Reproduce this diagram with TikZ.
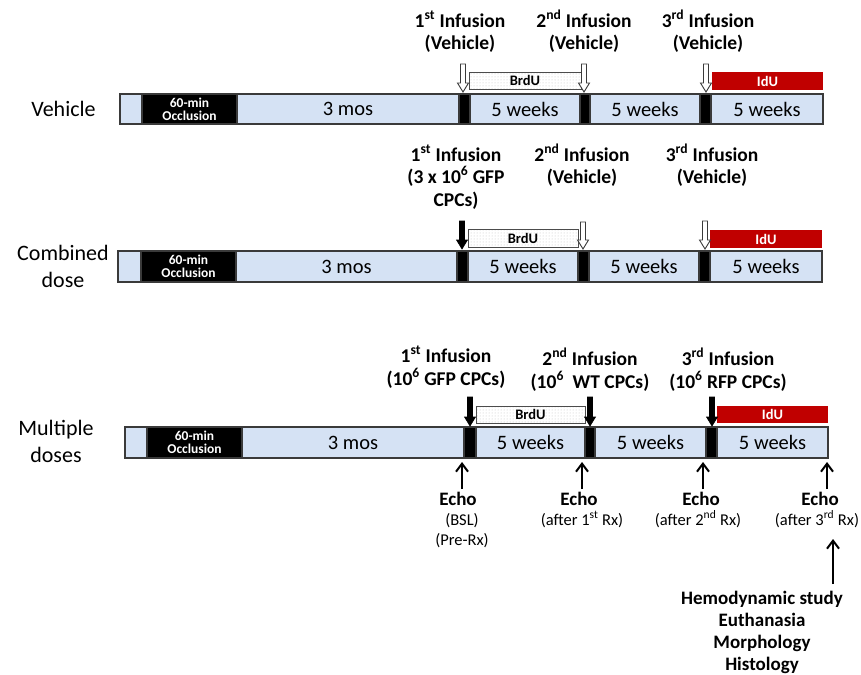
\documentclass[tikz,border=0pt]{standalone}
\usepackage{fontspec}
\setmainfont{Carlito}
\usetikzlibrary{patterns,arrows.meta}
\definecolor{barblue}{HTML}{D5E2F4}
\definecolor{baredge}{HTML}{3A3A3A}
\definecolor{idured}{HTML}{C00000}
\tikzset{
  seglight/.style={draw=baredge, line width=1.3pt, fill=barblue, inner sep=0pt, outer sep=0pt,
    font=\fontsize{20.5}{24}\selectfont},
  segdark/.style={draw=baredge, line width=1.3pt, fill=black, inner sep=0pt, outer sep=0pt,
    text=white, align=center, font=\bfseries\fontsize{13.5}{13}\selectfont},
  brdubox/.style={draw=gray!60!black, line width=0.8pt, pattern=dots, pattern color=gray!50,
    inner sep=0pt, font=\bfseries\fontsize{14.5}{15}\selectfont},
  idubox/.style={fill=idured, inner sep=0pt, text=white, font=\bfseries\fontsize{14.5}{15}\selectfont},
  inflabel/.style={font=\bfseries\fontsize{19.5}{22.5}\selectfont, align=center, anchor=base, inner sep=0pt},
  rowlabel/.style={font=\fontsize{22}{27}\selectfont, align=center, anchor=base, inner sep=0pt},
  echolabel/.style={font=\bfseries\fontsize{19}{22}\selectfont, anchor=base, inner sep=0pt},
  echosub/.style={font=\fontsize{16.5}{20}\selectfont, align=center, anchor=base, inner sep=0pt},
  studylabel/.style={font=\bfseries\fontsize{19}{22}\selectfont, align=center, anchor=base, inner sep=0pt},
  hollowarrow/.style={draw=baredge, fill=white, line width=0.9pt},
  solidarrow/.style={draw=black, fill=black, line width=0.6pt},
  echoarrow/.style={draw=black, line width=2pt, -{Straight Barb[length=8pt,width=12pt]}},
}
% style, name, x1, x2, y1, y2, text
\newcommand{\seg}[7]{\node[#1, minimum width={(#4)-(#3)}, minimum height={(#6)-(#5)}] (#2) at ({((#3)+(#4))/2},{((#5)+(#6))/2}) {#7};}
% style, tip name, x, ytop, ytip
\newcommand{\infarrow}[5]{\draw[#1] ({#3-2.5},#4) -- ({#3+2.5},#4) -- ({#3+2.5},{#5-9}) -- ({#3+5.5},{#5-9}) -- (#3,#5) coordinate (#2) -- ({#3-5.5},{#5-9}) -- ({#3-2.5},{#5-9}) -- cycle;}
\begin{document}
\begin{tikzpicture}[x=1pt,y=-1pt]
\useasboundingbox (0,0) rectangle (861,674);

% ---------------- Row 1: Vehicle ----------------
\node[rowlabel] (lab1) at (63.5,117) {Vehicle};
\seg{seglight}{a0}{120}{142}{94}{124}{}
\seg{segdark}{aocc}{142}{237}{94}{124}{60-min\\Occlusion}
\seg{seglight}{amos}{237}{459}{94}{124}{3 mos}
\seg{segdark}{ak1}{459}{470}{94}{124}{}
\seg{seglight}{aw1}{470}{580}{94}{124}{5 weeks}
\seg{segdark}{ak2}{580}{590}{94}{124}{}
\seg{seglight}{aw2}{590}{700}{94}{124}{5 weeks}
\seg{segdark}{ak3}{700}{711}{94}{124}{}
\seg{seglight}{aw3}{711}{823}{94}{124}{5 weeks}
\seg{brdubox}{abrdu}{469}{581}{72}{89}{BrdU}
\seg{idubox}{aidu}{712}{823}{72}{90}{IdU}
\infarrow{hollowarrow}{aa1}{463}{64}{92}
\infarrow{hollowarrow}{aa2}{584}{64}{92}
\infarrow{hollowarrow}{aa3}{706}{64}{92}
\node[inflabel] (ai1) at (460,50) {1\textsuperscript{st} Infusion\\(Vehicle)};
\node[inflabel] (ai2) at (584,50) {2\textsuperscript{nd} Infusion\\(Vehicle)};
\node[inflabel] (ai3) at (708,50) {3\textsuperscript{rd} Infusion\\(Vehicle)};

% ---------------- Row 2: Combined dose ----------------
\node[rowlabel] (lab2) at (63,287) {Combined\\dose};
\seg{seglight}{b0}{118}{141}{251}{282}{}
\seg{segdark}{bocc}{141}{236}{251}{282}{60-min\\Occlusion}
\seg{seglight}{bmos}{236}{457}{251}{282}{3 mos}
\seg{segdark}{bk1}{457}{468}{251}{282}{}
\seg{seglight}{bw1}{468}{578}{251}{282}{5 weeks}
\seg{segdark}{bk2}{578}{589}{251}{282}{}
\seg{seglight}{bw2}{589}{699}{251}{282}{5 weeks}
\seg{segdark}{bk3}{699}{710}{251}{282}{}
\seg{seglight}{bw3}{710}{822}{251}{282}{5 weeks}
\seg{brdubox}{bbrdu}{468}{578}{229}{247}{BrdU}
\seg{idubox}{bidu}{710}{822}{230}{248}{IdU}
\infarrow{solidarrow}{ba1}{462}{221}{249}
\infarrow{hollowarrow}{ba2}{583}{222}{249}
\infarrow{hollowarrow}{ba3}{705}{221}{249}
\node[inflabel] (bi1) at (456,206) {1\textsuperscript{st} Infusion\\(3 x 10\textsuperscript{6} GFP\\CPCs)};
\node[inflabel] (bi2) at (582,183.5) {2\textsuperscript{nd} Infusion\\(Vehicle)};
\node[inflabel] (bi3) at (712,183.5) {3\textsuperscript{rd} Infusion\\(Vehicle)};

% ---------------- Row 3: Multiple doses ----------------
\node[rowlabel] (lab3) at (56,462) {Multiple\\doses};
\seg{seglight}{c0}{125}{147}{427}{458}{}
\seg{segdark}{cocc}{147}{242}{427}{458}{60-min\\Occlusion}
\seg{seglight}{cmos}{242}{464}{427}{458}{3 mos}
\seg{segdark}{ck1}{464}{476}{427}{458}{}
\seg{seglight}{cw1}{476}{585}{427}{458}{5 weeks}
\seg{segdark}{ck2}{585}{595}{427}{458}{}
\seg{seglight}{cw2}{595}{706}{427}{458}{5 weeks}
\seg{segdark}{ck3}{706}{717}{427}{458}{}
\seg{seglight}{cw3}{717}{828}{427}{458}{5 weeks}
\seg{brdubox}{cbrdu}{476}{585}{406}{423}{BrdU}
\seg{idubox}{cidu}{717}{828}{406}{423}{IdU}
\infarrow{solidarrow}{ca1}{470}{397}{426}
\infarrow{solidarrow}{ca2}{590}{397}{426}
\infarrow{solidarrow}{ca3}{712}{397}{426}
\node[inflabel] (ci1) at (446,385) {1\textsuperscript{st} Infusion\\(10\textsuperscript{6} GFP CPCs)};
\node[inflabel] (ci2) at (590,388) {2\textsuperscript{nd} Infusion\\(10\textsuperscript{6}\ \ WT CPCs)};
\node[inflabel] (ci3) at (728,388) {3\textsuperscript{rd} Infusion\\(10\textsuperscript{6} RFP CPCs)};

% ---------------- Echo ----------------
\node[echolabel] (echo1) at (458,505) {Echo};
\node[echosub] (echo1s) at (462,545) {(BSL)\\(Pre-Rx)};
\node[echolabel] (echo2) at (579,505) {Echo};
\node[echosub] (echo2s) at (582,525) {(after 1\textsuperscript{st} Rx)};
\node[echolabel] (echo3) at (701,505) {Echo};
\node[echosub] (echo3s) at (698,525) {(after 2\textsuperscript{nd} Rx)};
\node[echolabel] (echo4) at (820,505) {Echo};
\node[echosub] (echo4s) at (817,525) {(after 3\textsuperscript{rd} Rx)};
\coordinate (e1t) at (462,489); \coordinate (e1h) at (462,462);
\coordinate (e2t) at (582,489); \coordinate (e2h) at (582,462);
\coordinate (e3t) at (703,489); \coordinate (e3h) at (703,462);
\coordinate (e4t) at (827,489); \coordinate (e4h) at (827,462);
\draw[echoarrow] (e1t) -- (e1h);
\draw[echoarrow] (e2t) -- (e2h);
\draw[echoarrow] (e3t) -- (e3h);
\draw[echoarrow] (e4t) -- (e4h);

% ---------------- Final study ----------------
\node[studylabel] (study) at (762,670) {Hemodynamic study\\Euthanasia\\Morphology\\Histology};
\coordinate (st) at (833,584); \coordinate (sh) at (833,539);
\draw[echoarrow] (st) -- (sh);
\end{tikzpicture}
\end{document}
